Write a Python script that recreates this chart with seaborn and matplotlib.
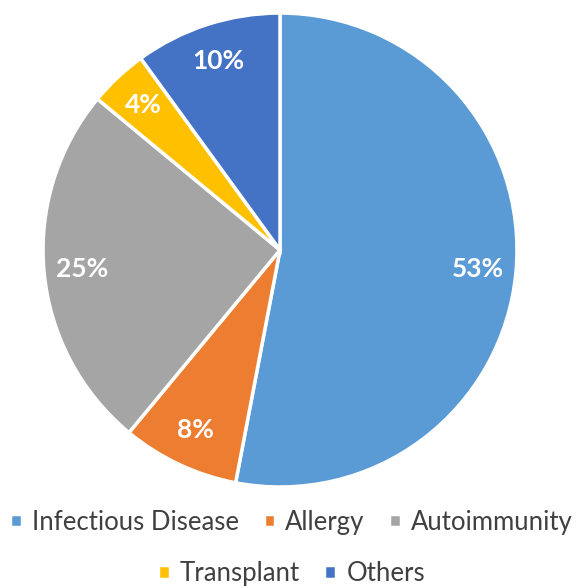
import seaborn as sns
import matplotlib.pyplot as plt

# share of each category (percent), clockwise from 12 o'clock
categories = ['Infectious Disease', 'Allergy', 'Autoimmunity', 'Transplant', 'Others']
shares = [53, 8, 25, 4, 10]
colors = ['#5B9BD5', '#ED7D31', '#A5A5A5', '#FFC000', '#4472C4']

sns.set_theme(style="white")
plt.rcParams['font.family'] = ['Lato', 'DejaVu Sans']

fig = plt.figure(figsize=(5.83, 5.88), dpi=100)
ax = fig.add_axes([0.0738, 0.1718, 0.813, 0.806])

wedges, texts, autotexts = ax.pie(
    shares, colors=colors, startangle=90, counterclock=False,
    autopct=lambda p: '%d%%' % round(p), pctdistance=0.84,
    wedgeprops=dict(edgecolor='white', linewidth=2.5),
    textprops=dict(color='white', fontsize=19, fontweight='bold'))
ax.set_xlim(-1, 1)
ax.set_ylim(-1, 1)
ax.set_aspect('equal')

# legend in two centred rows, like the original
leg_style = dict(frameon=False, fontsize=18.5, handlelength=0.45, handleheight=0.45,
                 handletextpad=0.4, columnspacing=0.95, labelcolor='#404040')
fig.legend(wedges[:3], categories[:3], loc='center', ncol=3,
           bbox_to_anchor=(0.5, 0.112), **leg_style)
fig.legend(wedges[3:], categories[3:], loc='center', ncol=2,
           bbox_to_anchor=(0.5, 0.025), **leg_style)

fig.savefig("out.png", dpi=100)
plt.close()
